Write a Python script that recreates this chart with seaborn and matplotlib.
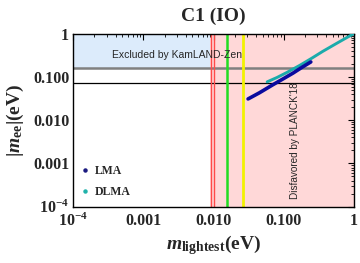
import numpy as np
import matplotlib
matplotlib.use("Agg")
import matplotlib.pyplot as plt
import seaborn as sns
from matplotlib.lines import Line2D
from matplotlib import ticker

# LMA / DLMA bands (m_lightest, |m_ee|) in eV
lma_m = [0.031, 0.045, 0.070, 0.100, 0.136, 0.180, 0.243]
lma_mee = [0.031, 0.043, 0.066, 0.092, 0.123, 0.165, 0.222]
dlma_m = [0.058, 0.080, 0.110, 0.170, 0.250, 0.360, 0.550, 0.800, 1.000]
dlma_mee = [0.077, 0.097, 0.126, 0.186, 0.270, 0.390, 0.580, 0.820, 1.000]

# bounds
kamland = 0.16
ref_line = 0.071
planck = 0.009
red_lines = [0.0091, 0.0102]
green_line = 0.0156
yellow_line = 0.0263

tick_vals = [1e-4, 1e-3, 1e-2, 1e-1, 1]
tick_labels = [r"$\mathbf{10^{-4}}$", "0.001", "0.010", "0.100", "1"]

sns.set_style("white")
plt.rcParams["font.family"] = ["Liberation Serif", "DejaVu Serif"]
plt.rcParams["mathtext.fontset"] = "custom"
plt.rcParams["mathtext.rm"] = "Liberation Serif:bold"
plt.rcParams["mathtext.bf"] = "Liberation Serif:bold"
plt.rcParams["mathtext.it"] = "Liberation Serif:italic:bold"

fig = plt.figure(figsize=(3.6, 2.63), dpi=100)
ax = fig.add_axes([0.2036, 0.214, 0.7795, 0.658])
ax.set_xscale("log")
ax.set_yscale("log")
ax.set_xlim(1e-4, 1)
ax.set_ylim(1e-4, 1)

# shaded regions
ax.fill_between([1e-4, planck], kamland, 1, color="#DCEBFB", lw=0, zorder=0)
ax.axvspan(planck, 1, color="#FFD8D8", lw=0, zorder=0)
ax.axhline(kamland, color="#808080", lw=1.8, zorder=1)
ax.axhline(ref_line, color="black", lw=0.9, zorder=1)
for xv in red_lines:
    ax.axvline(xv, color="#FF4A4A", lw=1.0, zorder=1)
ax.axvline(green_line, color="#22DD22", lw=1.8, zorder=1)
ax.axvline(yellow_line, color="#F2F200", lw=2.0, zorder=1)

sns.lineplot(x=dlma_m, y=dlma_mee, ax=ax, color="#1BABAB", lw=2.1,
             sort=False, estimator=None, zorder=3)
sns.lineplot(x=lma_m, y=lma_mee, ax=ax, color="#0A0A9E", lw=2.6,
             sort=False, estimator=None, zorder=4)

ax.text(0.003, 0.32, "Excluded by KamLAND-Zen", family="Liberation Sans",
        fontsize=7.5, ha="center", va="center", zorder=5)
ax.text(0.144, 0.0033, "Disfavored by PLANCK'18", family="Liberation Sans",
        fontsize=7.2, rotation=90, ha="center", va="center", zorder=5)

ax.set_xticks(tick_vals)
ax.set_xticklabels(tick_labels)
ax.set_yticks(tick_vals)
ax.set_yticklabels(tick_labels)
ax.xaxis.set_minor_locator(ticker.LogLocator(base=10, subs=np.arange(2, 10)))
ax.yaxis.set_minor_locator(ticker.LogLocator(base=10, subs=np.arange(2, 10)))
ax.xaxis.set_minor_formatter(ticker.NullFormatter())
ax.yaxis.set_minor_formatter(ticker.NullFormatter())
ax.tick_params(which="both", direction="in", top=True, right=True, color="black")
ax.tick_params(which="major", length=4, width=0.8, labelsize=11.5, pad=3)
ax.tick_params(axis="x", which="major", pad=4.5)
ax.tick_params(which="minor", length=2, width=0.6)
for lab in ax.get_xticklabels() + ax.get_yticklabels():
    lab.set_fontweight("bold")
for sp in ax.spines.values():
    sp.set_color("black")
    sp.set_linewidth(1.0)

ax.set_title("C1 (IO)", fontsize=14, fontweight="bold", pad=9)
ax.set_xlabel(r"$\mathit{m}_{\mathrm{lightest}}\mathrm{(eV)}$", fontsize=14, labelpad=2)
ax.set_ylabel(r"$|\mathit{m}_{\mathrm{ee}}|\mathrm{(eV)}$", fontsize=14, labelpad=5)

handles = [Line2D([], [], ls="none", marker="o", ms=2.2, color="#1A1A80", label="LMA"),
           Line2D([], [], ls="none", marker="o", ms=2.2, color="#20B2AA", label="DLMA")]
ax.legend(handles=handles, loc="lower left", frameon=False,
          prop={"family": "Liberation Serif", "weight": "bold", "size": 8.5},
          handlelength=0.6, handletextpad=0.5, borderaxespad=0.3, labelspacing=0.8)

fig.savefig("out.png", dpi=100)
